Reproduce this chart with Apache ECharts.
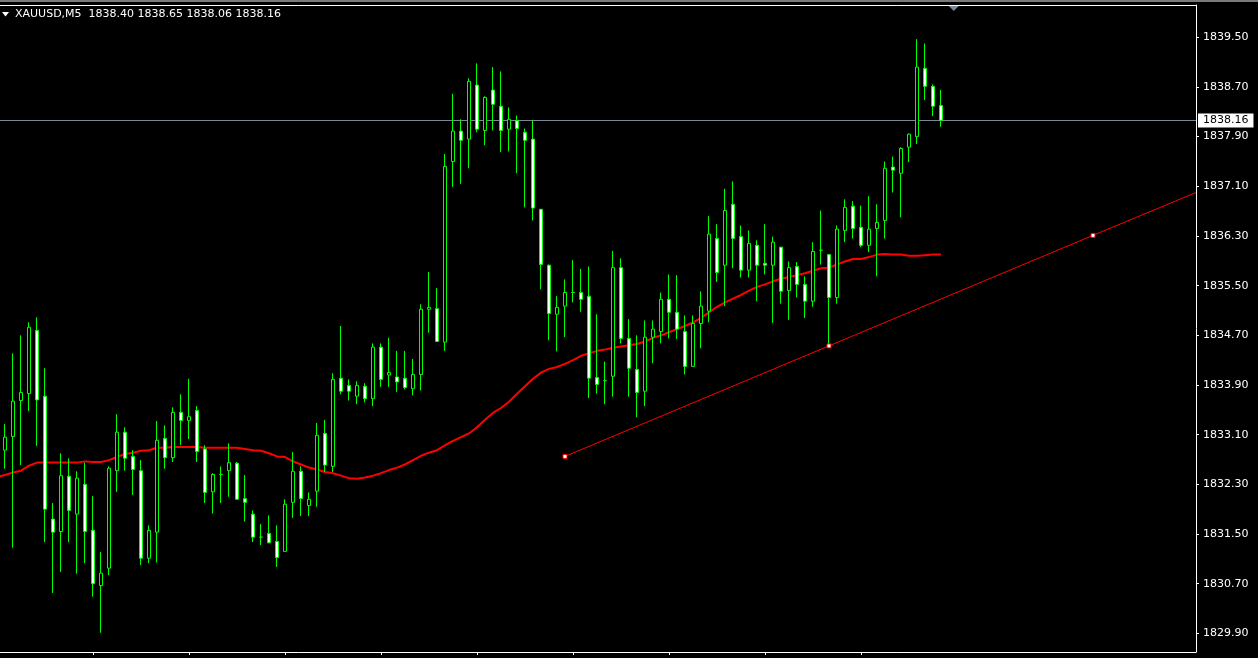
<!DOCTYPE html>
<html>
<head>
<meta charset="utf-8">
<script src="https://cdn.jsdelivr.net/npm/echarts@6/dist/echarts.min.js"></script>
<style>
html,body{margin:0;padding:0;background:#000;}
#chart{width:1258px;height:658px;}
</style>
</head>
<body>
<div id="chart"></div>
<script>
// ---- data (XAUUSD, M5) ----
const symbolTitle = 'XAUUSD,M5';
const lastBar = [1838.40, 1838.65, 1838.06, 1838.16]; // O H L C shown in header

const candleOpen = [
1832.85,1833.07,1833.65,1833.76,1834.78,1833.72,1831.74,1831.54,1832.43,1831.82,
1832.30,1831.56,1830.67,1830.95,1832.52,1833.14,1832.75,1832.52,1831.11,1831.53,
1833.04,1832.73,1833.46,1833.33,1833.49,1832.87,1832.18,1832.46,1832.52,1832.64,
1832.07,1831.82,1831.45,1831.51,1831.38,1831.22,1832.01,1832.51,1831.96,1832.19,
1833.12,1832.59,1834.01,1833.89,1833.72,1833.88,1833.68,1834.51,1834.06,1834.03,
1834.01,1833.84,1834.07,1835.12,1835.13,1834.59,1837.50,1837.99,1837.86,1838.73,
1838.00,1838.65,1838.39,1838.02,1838.16,1837.97,1837.86,1836.73,1835.83,1835.04,
1835.17,1835.39,1835.39,1835.33,1834.02,1833.97,1834.04,1835.79,1834.65,1834.15,
1833.80,1834.67,1834.76,1835.28,1835.07,1834.76,1834.20,1834.89,1835.09,1836.26,
1835.83,1836.81,1836.29,1835.75,1836.15,1835.86,1835.83,1836.12,1835.42,1835.81,
1835.52,1835.25,1836.07,1836.00,1835.31,1836.39,1836.78,1836.44,1836.15,1836.42,
1836.55,1837.41,1837.31,1837.73,1837.90,1839.00,1838.71,1838.40];
const candleClose = [
1833.06,1833.64,1833.78,1834.83,1833.66,1831.90,1831.53,1832.44,1831.88,1832.40,
1831.54,1830.70,1830.87,1832.56,1833.14,1832.72,1832.54,1831.11,1831.56,1833.01,
1832.73,1833.46,1833.33,1833.39,1832.83,1832.17,1832.46,1832.46,1832.65,1832.06,
1832.01,1831.45,1831.45,1831.36,1831.12,1831.98,1832.51,1832.07,1832.06,1833.09,
1832.61,1833.99,1833.80,1833.80,1833.89,1833.68,1834.51,1833.99,1834.10,1833.95,
1833.86,1834.07,1835.12,1835.15,1834.60,1837.42,1837.99,1837.84,1838.79,1838.02,
1838.53,1838.42,1838.00,1838.18,1838.03,1837.84,1836.75,1835.84,1835.05,1835.15,
1835.39,1835.39,1835.28,1834.01,1833.91,1833.97,1835.79,1834.65,1834.17,1833.78,
1834.67,1834.80,1835.28,1835.07,1834.80,1834.20,1834.89,1835.17,1836.33,1835.71,
1836.71,1836.26,1835.75,1836.18,1835.83,1835.83,1836.20,1835.41,1835.79,1835.52,
1835.25,1836.05,1836.07,1835.31,1836.41,1836.76,1836.42,1836.15,1836.41,1836.52,
1837.39,1837.36,1837.71,1837.94,1839.02,1838.71,1838.39,1838.16];
const candleLow = [
1832.55,1831.28,1832.61,1833.48,1832.92,1831.37,1830.55,1830.89,1831.37,1830.86,
1831.03,1830.49,1829.91,1830.84,1832.18,1832.52,1832.13,1831.00,1831.03,1831.04,
1832.55,1832.66,1832.93,1833.03,1832.66,1832.00,1831.83,1832.00,1832.10,1832.06,
1831.70,1831.37,1831.32,1831.35,1830.97,1831.22,1831.76,1831.79,1831.79,1831.94,
1832.50,1832.50,1833.75,1833.65,1833.59,1833.62,1833.56,1833.87,1833.87,1833.79,
1833.83,1833.73,1833.81,1834.74,1834.60,1834.45,1837.09,1837.14,1837.39,1837.97,
1837.76,1838.00,1837.65,1837.66,1837.31,1836.76,1836.55,1835.44,1834.62,1834.44,
1834.67,1835.23,1835.08,1833.69,1833.76,1833.59,1833.71,1834.57,1833.71,1833.38,
1833.56,1834.25,1834.57,1834.65,1834.64,1834.07,1834.20,1834.49,1834.91,1835.56,
1835.17,1835.78,1835.63,1835.63,1835.25,1835.68,1834.90,1835.21,1834.95,1835.31,
1834.98,1835.16,1835.84,1834.54,1835.21,1836.20,1836.26,1836.12,1836.04,1835.65,
1836.26,1837.00,1836.60,1837.49,1837.78,1838.49,1838.23,1838.06];
const candleHigh = [
1833.27,1834.41,1834.70,1834.91,1834.99,1834.17,1832.00,1832.80,1832.72,1832.51,
1832.65,1832.11,1831.21,1832.59,1833.43,1833.22,1832.85,1832.69,1831.64,1833.32,
1833.25,1833.54,1833.75,1834.00,1833.56,1832.93,1832.48,1832.59,1832.96,1832.66,
1832.45,1831.88,1831.66,1831.80,1831.64,1832.06,1832.82,1832.59,1832.17,1833.29,
1833.34,1834.09,1834.85,1833.99,1833.96,1833.93,1834.57,1834.57,1834.66,1834.45,
1834.45,1834.32,1835.20,1835.72,1835.46,1837.62,1838.59,1838.18,1838.84,1839.08,
1838.55,1839.02,1838.95,1838.37,1838.24,1838.03,1838.16,1836.73,1835.84,1835.33,
1835.60,1835.91,1835.77,1835.81,1835.04,1834.28,1836.06,1835.94,1834.96,1834.70,
1834.94,1834.94,1835.39,1835.68,1835.67,1835.02,1835.02,1835.41,1836.62,1836.49,
1837.06,1837.18,1836.47,1836.39,1836.23,1836.49,1836.29,1836.12,1835.89,1835.88,
1835.65,1836.20,1836.71,1836.00,1836.47,1836.89,1836.86,1836.79,1836.94,1836.81,
1837.50,1837.58,1837.73,1837.95,1839.47,1839.40,1838.74,1838.65];

// moving average, first value belongs to the bar just left of the window (index -1)
const maValues = [
1832.42,
1832.45,1832.49,1832.52,1832.60,1832.65,1832.65,1832.65,1832.65,1832.65,1832.65,
1832.67,1832.66,1832.66,1832.69,1832.74,1832.79,1832.81,1832.84,1832.85,1832.89,
1832.89,1832.90,1832.90,1832.90,1832.90,1832.89,1832.89,1832.89,1832.89,1832.89,
1832.87,1832.85,1832.84,1832.80,1832.75,1832.74,1832.67,1832.62,1832.57,1832.54,
1832.50,1832.48,1832.44,1832.40,1832.39,1832.41,1832.44,1832.48,1832.53,1832.57,
1832.62,1832.69,1832.76,1832.81,1832.85,1832.93,1833.00,1833.06,1833.12,1833.22,
1833.34,1833.45,1833.53,1833.63,1833.76,1833.88,1834.00,1834.10,1834.16,1834.19,
1834.24,1834.30,1834.37,1834.41,1834.45,1834.47,1834.50,1834.52,1834.54,1834.56,
1834.60,1834.66,1834.70,1834.75,1834.80,1834.85,1834.91,1834.98,1835.07,1835.16,
1835.23,1835.29,1835.35,1835.42,1835.48,1835.52,1835.57,1835.61,1835.64,1835.67,
1835.70,1835.74,1835.78,1835.79,1835.84,1835.89,1835.93,1835.93,1835.96,1836.00,
1836.01,1836.00,1836.00,1835.98,1835.98,1835.99,1836.00,1836.00];

// trend line: two anchors, mid marker, and the ray end at the right edge
const trendX = [70, 103, 136, 148.875];
const trendY = [1832.75, 1834.53, 1836.31, 1837.00];
const trendMarker = [true, true, true, false];

const yTickLabels = [1829.90,1830.70,1831.50,1832.30,1833.10,1833.90,1834.70,1835.50,1836.30,1837.10,1837.90,1838.70,1839.50];
const xTickBars = [11,23,35,47,59,71,83,95,107];

const xMin = -0.625, xMax = 148.875;
const yMin = 1829.6, yMax = 1840.02;
const shiftMarkBar = 118.6; // chart-shift marker position (bar units)

// ---- chart ----
const FONT = '"DejaVu Sans", sans-serif';
const chart = echarts.init(document.getElementById('chart'), null, {renderer:'canvas'});
const candles = candleOpen.map((o,i)=>[i, o, candleClose[i], candleLow[i], candleHigh[i]]);
const ma = maValues.map((v,i)=>[i-1, v]);
const trend = trendX.map((x,i)=>({value:[x, trendY[i]], symbol: trendMarker[i] ? 'rect' : 'none'}));
const lastClose = lastBar[3];

chart.setOption({
  backgroundColor:'#000000',
  animation:false,
  grid:{left:0, right:62, top:5, bottom:6, show:false},
  xAxis:[{
    type:'value', min:xMin, max:xMax, position:'bottom',
    axisLine:{show:true, onZero:false, lineStyle:{color:'#ffffff', width:1}},
    axisTick:{show:true, length:3, lineStyle:{color:'#ffffff'}, customValues: xTickBars},
    axisLabel:{show:false},
    splitLine:{show:false}
  },{
    type:'value', min:xMin, max:xMax, position:'top',
    axisLine:{show:true, onZero:false, lineStyle:{color:'#ffffff', width:1}},
    axisTick:{show:false}, axisLabel:{show:false}, splitLine:{show:false}
  }],
  yAxis:{
    type:'value', min:yMin, max:yMax, position:'right', scale:true,
    axisLine:{show:true, onZero:false, lineStyle:{color:'#ffffff', width:1}},
    axisTick:{show:true, length:3, lineStyle:{color:'#ffffff'}, customValues: yTickLabels},
    axisLabel:{show:true, customValues: yTickLabels, color:'#ffffff', fontFamily:FONT, fontSize:11, margin:7,
      formatter:(v)=>Number(v).toFixed(2)},
    splitLine:{show:false}
  },
  series:[
    {
      type:'line', data:ma, showSymbol:false, symbol:'none', clip:true, z:3,
      lineStyle:{color:'#ff0000', width:2}, silent:true
    },
    {
      type:'candlestick', data:candles, encode:{x:0, y:[1,2,3,4]}, barWidth:4, z:4,
      itemStyle:{color:'#000000', color0:'#ffffff', borderColor:'#00ff00', borderColor0:'#00ff00', borderColorDoji:'#00ff00', borderWidth:1},
      emphasis:{disabled:true}, silent:true,
      markLine:{
        silent:true, symbol:['none','none'], animation:false, z:2,
        lineStyle:{color:'#778899', width:1, type:'solid'},
        label:{show:true, position:'end', distance:2, formatter: lastClose.toFixed(2), color:'#000000', backgroundColor:'#ffffff',
          fontFamily:FONT, fontSize:11, padding:[1,5,1,5], lineHeight:12},
        data:[{yAxis:lastClose}]
      }
    },
    {
      type:'line', data:trend, z:5, clip:true, silent:true,
      symbolSize:4, showSymbol:true,
      lineStyle:{color:'#ff0000', width:1},
      itemStyle:{color:'#ffffff', borderColor:'#ff0000', borderWidth:1}
    }
  ]
});

// header, window edge and chart-shift marker
const shiftX = chart.convertToPixel({gridIndex:0}, [shiftMarkBar, yMax])[0];
chart.setOption({
  graphic:[
    {type:'rect', shape:{x:0, y:0, width:1258, height:2}, style:{fill:'#7a7a7a'}, silent:true},
    {type:'polygon', shape:{points:[[2,12],[9,12],[5.5,16.5]]}, style:{fill:'#ffffff'}, silent:true},
    {type:'text', left:15, top:9, style:{text: symbolTitle + '  ' + lastBar.map(v=>v.toFixed(2)).join(' '), fill:'#ffffff', font:'11px "DejaVu Sans"'}, silent:true},
    {type:'polygon', shape:{points:[[shiftX-6,5],[shiftX+6,5],[shiftX,11]]}, style:{fill:'#778899'}, silent:true}
  ]
});
</script>
</body>
</html>
